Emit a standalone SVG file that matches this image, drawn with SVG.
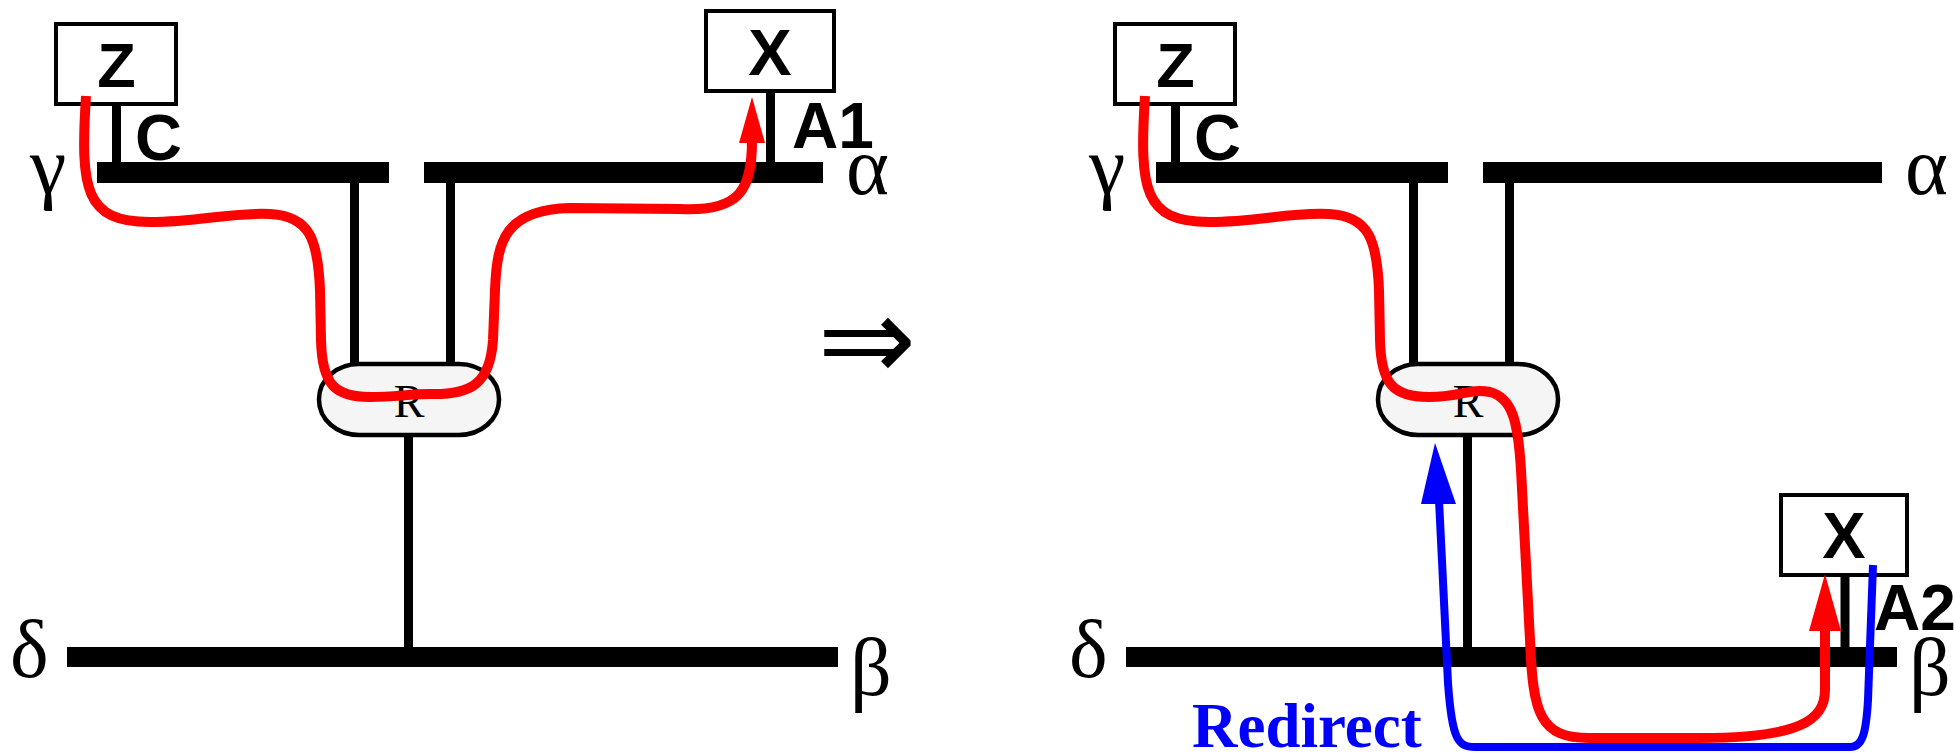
<svg xmlns="http://www.w3.org/2000/svg" width="1955" height="755" viewBox="0 0 1955 755">
<style>
.bar{fill:#000}
.stem{stroke:#000;stroke-width:9;fill:none}
.box{fill:#fff;stroke:#000;stroke-width:4}
.rnode{fill:#f5f5f5;stroke:#000;stroke-width:4.5}
.lbl{font-family:"Liberation Sans",Arial,sans-serif;font-weight:bold;fill:#000}
.greek{font-family:"Liberation Serif","Times New Roman",serif;font-size:82px;fill:#000}
.rtxt{font-family:"Liberation Serif","Times New Roman",serif;font-size:46px;fill:#000}
.red{stroke:#ff0000;stroke-width:10;fill:none;stroke-linejoin:round}
.blue{stroke:#0000ff;stroke-width:8;fill:none;stroke-linejoin:round}
</style>
<rect width="1955" height="755" fill="#fff"/>

<!-- LEFT PANEL -->
<g id="left-networks">
  <rect class="bar" x="97" y="162" width="292" height="21"/>
  <rect class="bar" x="424" y="162" width="399" height="21"/>
  <rect class="bar" x="67" y="647" width="771" height="20"/>
  <text class="greek" x="30" y="193">γ</text>
  <text class="greek" x="846" y="194">α</text>
  <text class="greek" x="10" y="677">δ</text>
  <text class="greek" x="850" y="695">β</text>
</g>
<g id="left-stems">
  <line class="stem" x1="116.5" y1="99" x2="116.5" y2="163"/>
  <line class="stem" x1="770.5" y1="88" x2="770.5" y2="163"/>
  <line class="stem" x1="354.5" y1="182" x2="354.5" y2="368"/>
  <line class="stem" x1="450.5" y1="182" x2="450.5" y2="368"/>
  <line class="stem" x1="408.5" y1="432" x2="408.5" y2="648"/>
</g>
<g id="left-Z">
  <rect class="box" x="56" y="24" width="120" height="80"/>
  <text class="lbl" x="116.5" y="87" font-size="63" text-anchor="middle">Z</text>
  <text class="lbl" x="135" y="160" font-size="65">C</text>
</g>
<g id="left-X">
  <rect class="box" x="706" y="11" width="128" height="80"/>
  <text class="lbl" x="770" y="75" font-size="65" text-anchor="middle">X</text>
  <text class="lbl" x="792" y="148" font-size="64">A1</text>
</g>
<g id="left-R">
  <rect class="rnode" x="319" y="364" width="180" height="71" rx="40" ry="35"/>
  <text class="rtxt" x="409" y="417" text-anchor="middle">R</text>
</g>

<!-- TRANSITION -->
<g id="transition">
  <text x="867" y="380" font-family="DejaVu Sans,sans-serif" font-size="118" text-anchor="middle" fill="#000">⇒</text>
</g>

<!-- RIGHT PANEL -->
<g id="right-networks">
  <rect class="bar" x="1156" y="162" width="292" height="21"/>
  <rect class="bar" x="1483" y="162" width="399" height="21"/>
  <rect class="bar" x="1126" y="647" width="771" height="20"/>
  <text class="greek" x="1089" y="193">γ</text>
  <text class="greek" x="1905" y="194">α</text>
  <text class="greek" x="1069" y="677">δ</text>
  <text class="greek" x="1909" y="695">β</text>
</g>
<g id="right-stems">
  <line class="stem" x1="1175.5" y1="99" x2="1175.5" y2="163"/>
  <line class="stem" x1="1413.5" y1="182" x2="1413.5" y2="368"/>
  <line class="stem" x1="1509.5" y1="182" x2="1509.5" y2="368"/>
  <line class="stem" x1="1467.5" y1="432" x2="1467.5" y2="648"/>
  <line class="stem" x1="1845" y1="571" x2="1845" y2="648"/>
</g>
<g id="right-Z">
  <rect class="box" x="1115" y="24" width="120" height="80"/>
  <text class="lbl" x="1175.5" y="87" font-size="63" text-anchor="middle">Z</text>
  <text class="lbl" x="1194" y="160" font-size="65">C</text>
</g>
<g id="right-X">
  <rect class="box" x="1781" y="495" width="126" height="80"/>
  <text class="lbl" x="1844" y="558" font-size="65" text-anchor="middle">X</text>
  <text class="lbl" x="1874" y="630" font-size="64">A2</text>
</g>
<g id="right-R">
  <rect class="rnode" x="1378" y="364" width="180" height="71" rx="40" ry="35"/>
  <text class="rtxt" x="1468" y="417" text-anchor="middle">R</text>
</g>

<!-- CONNECTORS -->
<g id="connectors">
  <path class="red" d="M 86,96 C 80,190 85,222 150,222 C 200,222 230,212 270,214 C 310,216 318,240 320,290 L 321,340 C 322,385 335,397 370,397 C 395,397 410,394 430,394 C 470,395 490,385 493,340 L 495,290 C 497,240 505,210 570,208 L 680,209 C 740,212 752,190 752,140"/>
  <polygon fill="#ff0000" points="752,97 765,143 739,143"/>

  <path class="red" d="M 1145,96 C 1139,190 1144,222 1209,222 C 1259,222 1289,212 1329,214 C 1369,216 1377,240 1379,290 L 1380,340 C 1381,385 1394,397 1429,397 C 1460,397 1470,388 1490,392 C 1512,398 1518,420 1521,470 L 1530,640 C 1533,715 1540,738 1590,738 L 1700,738 C 1800,738 1825,720 1825,690 L 1825,628"/>
  <polygon fill="#ff0000" points="1825,574 1841,631 1809,631"/>

  <path class="blue" d="M 1439,500 L 1448,683 C 1452,740 1458,747 1475,747 L 1850,747 C 1862,747 1866,735 1868,700 L 1873,565"/>
  <polygon fill="#0000ff" points="1435,443 1456,504 1421,504"/>
  <text x="1192" y="747" font-family="Liberation Serif,'Times New Roman',serif" font-weight="bold" font-size="63" fill="#0000ff">Redirect</text>
</g>
</svg>
